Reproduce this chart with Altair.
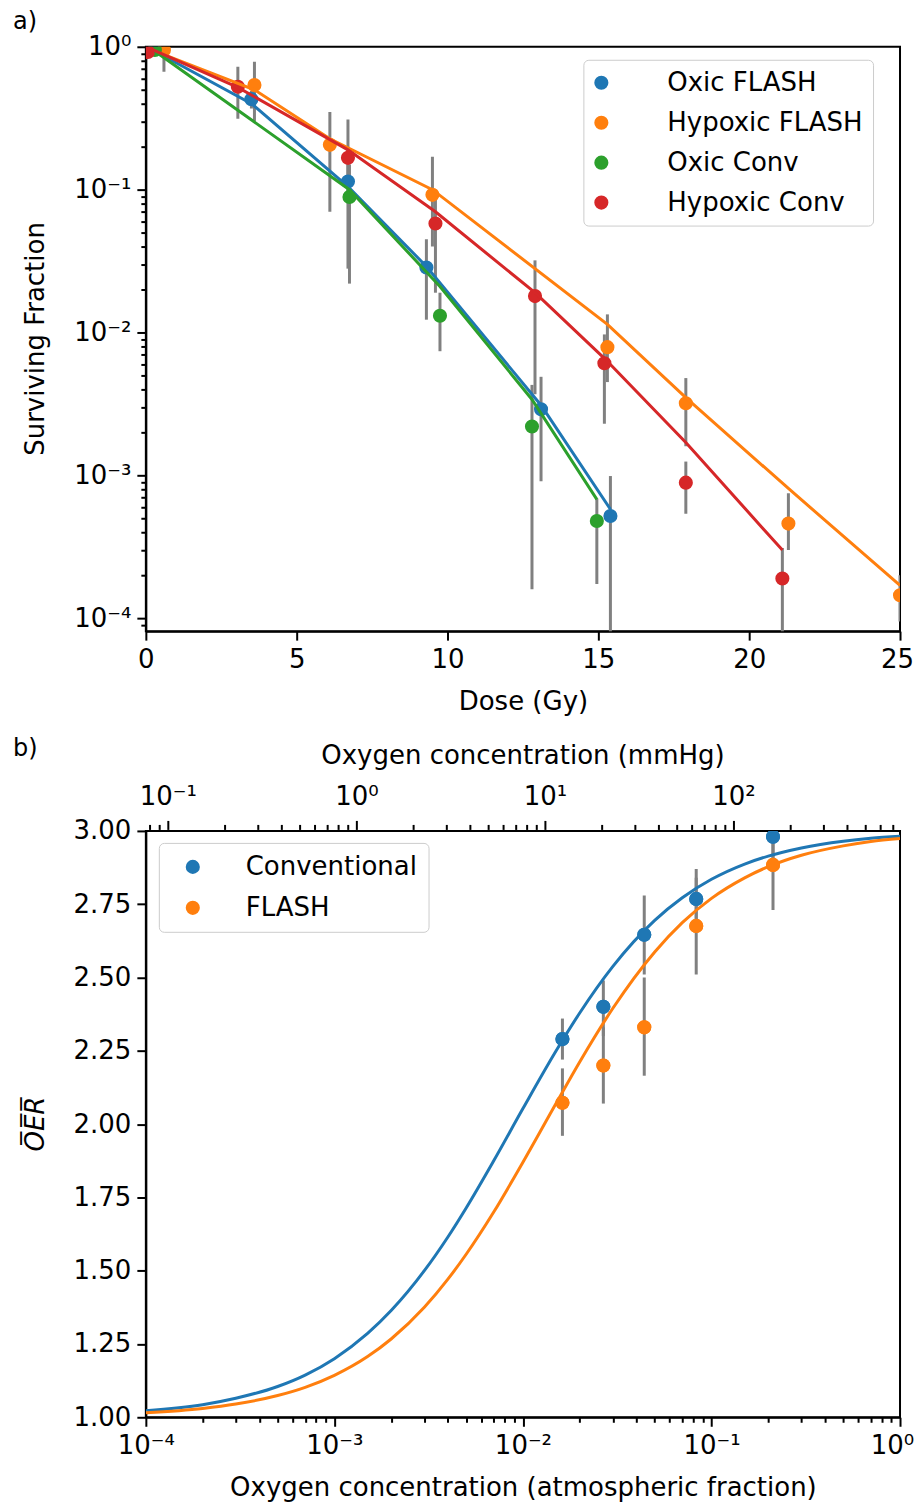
import math
import altair as alt
import pandas as pd

FONT = "DejaVu Sans"
TAB = ["#1f77b4", "#ff7f0e", "#2ca02c", "#d62728"]
BAR = "#808080"

# ---------------- panel a : survival curves ----------------
series_a = ["Oxic FLASH", "Hypoxic FLASH", "Oxic Conv", "Hypoxic Conv"]

oxic_flash_dose = [0.3, 3.5, 6.7, 9.3, 13.1, 15.4]
oxic_flash_sf = [0.97, 0.43, 0.114, 0.0285, 0.0029, 0.00052]
oxic_flash_lo = [0.97, 0.37, 0.028, 0.0123, 0.00091, 0.00003]
oxic_flash_hi = [0.97, 0.49, 0.20, 0.045, 0.0049, 0.00099]
oxic_flash_fit = [0.93, 0.40, 0.105, 0.029, 0.0031, 0.00058]

hyp_flash_dose = [0.6, 3.6, 6.1, 9.5, 15.3, 17.9, 21.3, 25.0]
hyp_flash_sf = [0.95, 0.54, 0.206, 0.092, 0.0079, 0.0032, 0.00046, 0.000145]
hyp_flash_lo = [0.67, 0.30, 0.070, 0.040, 0.0045, 0.0016, 0.00030, 0.000095]
hyp_flash_hi = [1.0, 0.785, 0.35, 0.17, 0.0134, 0.0048, 0.00075, 0.00020]
hyp_flash_fit = [0.88, 0.50, 0.227, 0.10, 0.0114, 0.0035, 0.00081, 0.00017]

oxic_conv_dose = [0.3, 6.75, 9.75, 12.8, 14.95]
oxic_conv_sf = [0.95, 0.089, 0.0131, 0.0022, 0.00048]
oxic_conv_lo = [0.95, 0.022, 0.0074, 0.00016, 0.000174]
oxic_conv_hi = [0.95, 0.15, 0.019, 0.0043, 0.00069]
oxic_conv_fit = [0.93, 0.10, 0.021, 0.0034, 0.00068]

hyp_conv_dose = [0.07, 3.05, 6.7, 9.6, 12.9, 15.2, 17.9, 21.1]
hyp_conv_sf = [0.92, 0.525, 0.167, 0.058, 0.018, 0.0061, 0.00089, 0.00019]
hyp_conv_lo = [0.92, 0.314, 0.09, 0.019, 0.0037, 0.0023, 0.00054, 0.00003]
hyp_conv_hi = [0.92, 0.725, 0.31, 0.10, 0.032, 0.0097, 0.00125, 0.00031]
hyp_conv_fit = [0.985, 0.52, 0.19, 0.07, 0.019, 0.0066, 0.0017, 0.0003]

dose_ticks = [0, 5, 10, 15, 20, 25]

# ---------------- panel b : OER ----------------
series_b = ["Conventional", "FLASH"]
o2_frac = [0.0162, 0.0267, 0.044, 0.083, 0.212]
conv_oer = [2.29, 2.40, 2.646, 2.768, 2.98]
conv_lo = [2.22, 2.30, 2.51, 2.66, 2.88]
conv_hi = [2.36, 2.49, 2.78, 2.87, 3.08]
flash_oer = [2.073, 2.20, 2.33, 2.676, 2.884]
flash_lo = [1.96, 2.07, 2.165, 2.51, 2.73]
flash_hi = [2.19, 2.33, 2.50, 2.84, 3.0]

curve_frac = [1e-4, 2e-4, 3e-4, 5e-4, 7e-4, 1e-3, 1.5e-3, 2e-3, 3e-3, 4e-3, 5e-3,
              7e-3, 1e-2, 1.5e-2, 2e-2, 3e-2, 5e-2, 7e-2, 0.1, 0.15, 0.2, 0.3,
              0.5, 0.7, 1.0]
conv_curve = [1.022, 1.043, 1.065, 1.105, 1.144, 1.200, 1.286, 1.364, 1.500, 1.615,
              1.714, 1.875, 2.053, 2.250, 2.379, 2.538, 2.695, 2.772, 2.835, 2.887,
              2.914, 2.942, 2.965, 2.975, 2.982]
flash_curve = [1.015, 1.030, 1.045, 1.074, 1.102, 1.143, 1.207, 1.267, 1.375, 1.471,
               1.556, 1.700, 1.870, 2.071, 2.212, 2.395, 2.587, 2.687, 2.770, 2.840,
               2.878, 2.917, 2.949, 2.964, 2.974]
oer_ticks = [1.0, 1.25, 1.5, 1.75, 2.0, 2.25, 2.5, 2.75, 3.0]

# secondary (top) axis of panel b: mmHg = atmospheric fraction x 760
MMHG_PER_ATM = 760.0
mmhg_major = [0.1, 1, 10, 100]
mmhg_major_text = ["10⁻¹", "10⁰", "10¹", "10²"]

# ---------------- tables ----------------
rows, fits = [], []
for name, d, v, lo, hi, f in [
    ("Oxic FLASH", oxic_flash_dose, oxic_flash_sf, oxic_flash_lo, oxic_flash_hi, oxic_flash_fit),
    ("Hypoxic FLASH", hyp_flash_dose, hyp_flash_sf, hyp_flash_lo, hyp_flash_hi, hyp_flash_fit),
    ("Oxic Conv", oxic_conv_dose, oxic_conv_sf, oxic_conv_lo, oxic_conv_hi, oxic_conv_fit),
    ("Hypoxic Conv", hyp_conv_dose, hyp_conv_sf, hyp_conv_lo, hyp_conv_hi, hyp_conv_fit),
]:
    for i in range(len(d)):
        rows.append({"series": name, "dose": d[i], "sf": v[i], "lo": lo[i], "hi": hi[i]})
        fits.append({"series": name, "dose": d[i], "sf": f[i]})
df_a = pd.DataFrame(rows)
fit_a = pd.DataFrame(fits)

rows_b, fits_b = [], []
for name, v, lo, hi, c in [("Conventional", conv_oer, conv_lo, conv_hi, conv_curve),
                           ("FLASH", flash_oer, flash_lo, flash_hi, flash_curve)]:
    for i in range(len(o2_frac)):
        rows_b.append({"group": name, "frac": o2_frac[i], "oer": v[i], "lo": lo[i], "hi": hi[i]})
    for i in range(len(curve_frac)):
        fits_b.append({"group": name, "frac": curve_frac[i], "oer": c[i]})
df_b = pd.DataFrame(rows_b)
fit_b = pd.DataFrame(fits_b)

# ---------------- axis helpers ----------------
SUP = {"-4": "⁻⁴", "-3": "⁻³", "-2": "⁻²", "-1": "⁻¹", "0": "⁰", "1": "¹", "2": "²"}
L = "(log(datum.value)/LN10)"
MAJOR = f"abs({L} - round({L})) < 0.001"


def log_labels(exps):
    expr = "''"
    for e in exps:
        expr = f"abs({L} - ({e})) < 0.001 ? '10{SUP[str(e)]}' : " + expr
    return expr


def minor_values(lo_exp, hi_exp, vmin, vmax):
    vals = []
    for e in range(lo_exp, hi_exp + 1):
        for k in range(1, 10):
            v = k * 10.0 ** e
            if vmin * 0.999 <= v <= vmax * 1.001:
                vals.append(v)
    return vals


TICK = {"condition": {"test": MAJOR, "value": 9}, "value": 5}

LEG = dict(title=None, orient="none", labelFontSize=26, labelFont=FONT, labelColor="black",
           labelLimit=400, symbolType="circle", symbolSize=200, symbolStrokeWidth=0,
           fillColor="white", strokeColor="#cccccc", cornerRadius=5)

# ---------------- panel a chart ----------------
sf_min = 8.13e-5
x_a = alt.X("dose:Q", scale=alt.Scale(domain=[0, 25], nice=False, zero=False),
            axis=alt.Axis(values=dose_ticks, title="Dose (Gy)", titleY=70,
                          titleBaseline="middle", tickSize=9, labelPadding=6,
                          labelOffset={"condition": {"test": "datum.value >= 25", "value": -3},
                                       "value": 0}))


def y_a(field):
    return alt.Y(field, scale=alt.Scale(type="log", domain=[sf_min, 1], nice=False),
                 axis=alt.Axis(values=minor_values(-5, 0, sf_min, 1),
                               labelExpr=log_labels([-4, -3, -2, -1, 0]),
                               tickSize=TICK, labelPadding=6,
                               title="Surviving Fraction", titleX=-110, titleY=292,
                               titleBaseline="middle", titleAngle=270))


col_a = alt.Scale(domain=series_a, range=TAB)

bars_a = alt.Chart(df_a).mark_rule(color=BAR, strokeWidth=3, clip=True).encode(
    x=x_a, y=y_a("lo:Q"), y2="hi:Q")
lines_a = alt.Chart(fit_a).mark_line(strokeWidth=3, clip=True).encode(
    x=x_a, y=y_a("sf:Q"), order="dose:Q",
    stroke=alt.Stroke("series:N", scale=col_a, legend=None))
pts_a = alt.Chart(df_a).mark_circle(size=200, opacity=1, clip=True).encode(
    x=x_a, y=y_a("sf:Q"),
    color=alt.Color("series:N", scale=col_a, sort=series_a,
                    legend=alt.Legend(legendX=438, legendY=13, rowPadding=14, padding=10,
                                      symbolOffset=-5, labelOffset=53, **LEG)))
lab_a = alt.Chart(pd.DataFrame({"lab": ["a)"]})).mark_text(
    align="left", baseline="top", fontSize=24, font=FONT, color="black").encode(
    text="lab:N", x=alt.value(-133), y=alt.value(-37))

top = alt.layer(bars_a, pts_a, lines_a, lab_a).properties(width=755, height=585)

# ---------------- panel b chart ----------------
x_b = alt.X("frac:Q", scale=alt.Scale(type="log", domain=[1e-4, 1], nice=False),
            axis=alt.Axis(values=minor_values(-4, 0, 1e-4, 1),
                          labelExpr=log_labels([-4, -3, -2, -1, 0]), tickSize=TICK,
                          labelPadding=6,
                          labelOffset={"condition": {"test": "datum.value >= 0.99", "value": -8},
                                       "value": 0},
                          title="Oxygen concentration (atmospheric fraction)",
                          titleY=83, titleBaseline="bottom"))


def y_b(field):
    return alt.Y(field, scale=alt.Scale(domain=[1, 3], nice=False, zero=False),
                 axis=alt.Axis(values=oer_ticks, format=".2f", tickSize=9, labelPadding=6,
                               title="O\u0305E\u0305R\u0305", titleFontStyle="italic",
                               titleX=-110, titleY=293, titleBaseline="middle",
                               titleAngle=270))


col_b = alt.Scale(domain=series_b, range=TAB[:2])
color_b = alt.Color("group:N", scale=col_b, sort=series_b,
                    legend=alt.Legend(legendX=13, legendY=12, rowPadding=15, padding=11,
                                      labelOffset=40, symbolOffset=10, **LEG))

bars_b = alt.Chart(df_b).mark_rule(color=BAR, strokeWidth=3, clip=True).encode(
    x=x_b, y=y_b("lo:Q"), y2="hi:Q")
pts_b = alt.Chart(df_b).mark_circle(size=200, opacity=1, clip=True).encode(
    x=x_b, y=y_b("oer:Q"), color=color_b)
lines_b = alt.Chart(fit_b).mark_line(strokeWidth=3, clip=True, interpolate="monotone").encode(
    x=x_b, y=y_b("oer:Q"), order="frac:Q",
    stroke=alt.Stroke("group:N", scale=col_b, legend=None))
pts_b_top = alt.Chart(df_b).mark_circle(size=200, opacity=1, clip=True).encode(
    x=x_b, y=y_b("oer:Q"), color=color_b)
lab_b = alt.Chart(pd.DataFrame({"lab": ["b)"]})).mark_text(
    align="left", baseline="top", fontSize=24, font=FONT, color="black").encode(
    text="lab:N", x=alt.value(-133), y=alt.value(-94))

# top mmHg axis, drawn on the same fraction scale (fraction = mmHg / 760)
mm_vals = minor_values(-2, 2, 1e-4 * MMHG_PER_ATM, MMHG_PER_ATM)
mm_ticks = pd.DataFrame({
    "frac": [v / MMHG_PER_ATM for v in mm_vals],
    "major": [abs(math.log10(v) - round(math.log10(v))) < 1e-3 for v in mm_vals],
})
mm_labels = pd.DataFrame({"frac": [v / MMHG_PER_ATM for v in mmhg_major],
                          "txt": mmhg_major_text})

mm_major = alt.Chart(mm_ticks).transform_filter("datum.major").mark_rule(
    color="black", strokeWidth=2).encode(x=x_b, y=alt.value(-1), y2=alt.value(-10))
mm_minor = alt.Chart(mm_ticks).transform_filter("!datum.major").mark_rule(
    color="black", strokeWidth=2).encode(x=x_b, y=alt.value(-1), y2=alt.value(-6))
mm_text = alt.Chart(mm_labels).mark_text(
    baseline="middle", align="center", fontSize=26, font=FONT, color="black").encode(
    x=x_b, y=alt.value(-34), text="txt:N")
mm_title = alt.Chart(pd.DataFrame({"t": ["Oxygen concentration (mmHg)"]})).mark_text(
    baseline="middle", align="center", fontSize=26, font=FONT, color="black").encode(
    x=alt.value(377.5), y=alt.value(-75), text="t:N")

bottom = alt.layer(bars_b, pts_b, lines_b, pts_b_top, lab_b, mm_major, mm_minor, mm_text,
                   mm_title).properties(width=755, height=587)

chart = alt.vconcat(top, bottom, spacing=200, bounds="flush").resolve_scale(
    color="independent", stroke="independent", x="independent", y="independent"
).resolve_legend(color="independent").properties(
    padding={"left": 4, "top": 0, "right": 0, "bottom": 0}
).configure_view(stroke="black", strokeWidth=2).configure_axis(
    labelFont=FONT, labelFontSize=26, titleFont=FONT, titleFontSize=26,
    titleFontWeight="normal", labelColor="black", titleColor="black", tickColor="black",
    tickWidth=2, domainColor="black", domainWidth=2, grid=False, labelFlush=False,
    labelOverlap=False, labelBound=False)

chart.save("out.html", embed_options={"renderer": "svg", "actions": False})
